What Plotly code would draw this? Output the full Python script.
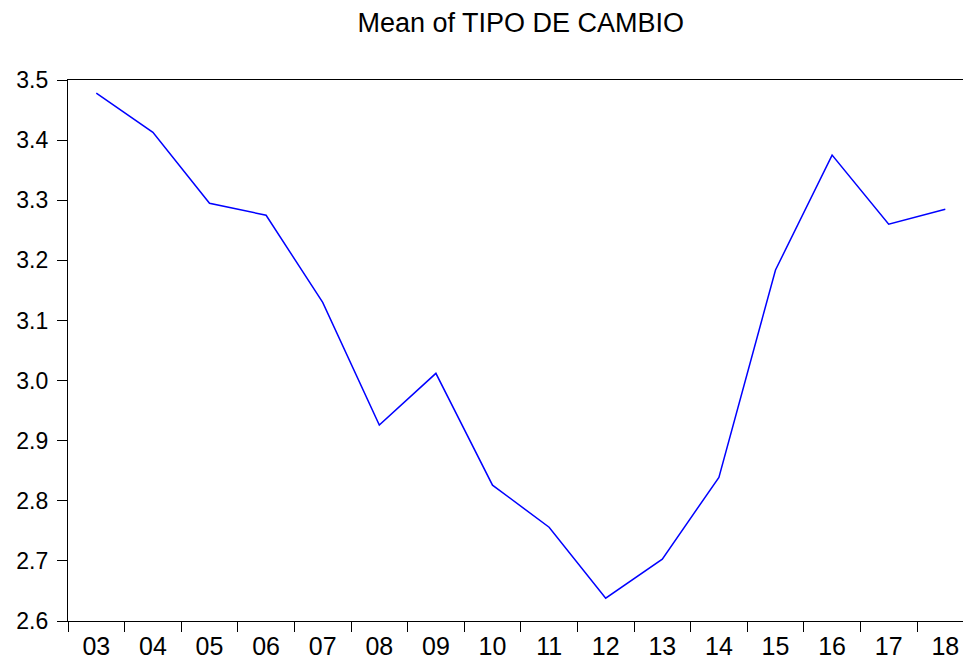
import plotly.graph_objects as go

years = ["03", "04", "05", "06", "07", "08", "09", "10", "11", "12", "13", "14", "15", "16", "17", "18"]
mean_tc = [3.478, 3.413, 3.295, 3.275, 3.130, 2.926, 3.012, 2.826, 2.756, 2.638, 2.703, 2.839, 3.184, 3.375, 3.260, 3.285]
y_ticks = [2.6, 2.7, 2.8, 2.9, 3.0, 3.1, 3.2, 3.3, 3.4, 3.5]

idx = list(range(len(years)))
bounds = [i - 0.5 for i in range(len(years) + 1)]

fig = go.Figure()
fig.add_trace(go.Scatter(x=idx, y=mean_tc, mode="lines",
                         line=dict(color="#0000FF", width=1.5), showlegend=False))
fig.add_trace(go.Scatter(x=[bounds[0]], y=[mean_tc[0]], xaxis="x2", mode="markers",
                         marker=dict(opacity=0), showlegend=False, hoverinfo="skip"))

xr = [-0.5, -0.5 + 895 / 56.6]
font = "Liberation Sans, Arial, sans-serif"

fig.update_layout(
    width=963, height=664,
    margin=dict(l=68, r=0, t=80, b=43, autoexpand=False),
    paper_bgcolor="white", plot_bgcolor="white",
    title=dict(text="Mean of TIPO DE CAMBIO", x=(68 + 973.5) / 2 / 963, xanchor="center",
               y=1 - 23 / 664, yanchor="middle", automargin=False,
               font=dict(family=font, size=27, color="black")),
    xaxis=dict(range=xr, tickvals=idx, ticktext=years, ticks="outside", ticklen=3,
               tickcolor="rgba(0,0,0,0)", showgrid=False, zeroline=False, automargin=False,
               showline=True, linecolor="black", linewidth=1.3, mirror=True,
               tickfont=dict(family=font, size=25, color="black")),
    xaxis2=dict(range=xr, overlaying="x", side="bottom", tickvals=bounds, ticks="outside",
                ticklen=10, tickcolor="black", tickwidth=1, showticklabels=False,
                showgrid=False, zeroline=False, showline=False, automargin=False),
    yaxis=dict(range=[2.6, 3.5], tickvals=y_ticks, tickformat=".1f", ticks="outside",
               ticklen=10, tickcolor="black", showgrid=False, zeroline=False,
               showline=True, linecolor="black", linewidth=1.3, automargin=False,
               ticklabelstandoff=4,
               tickfont=dict(family=font, size=23, color="black")),
)

fig.write_html("out.html", config={"displayModeBar": False},
               post_script="document.body.style.margin='0';document.body.style.overflow='hidden';")
